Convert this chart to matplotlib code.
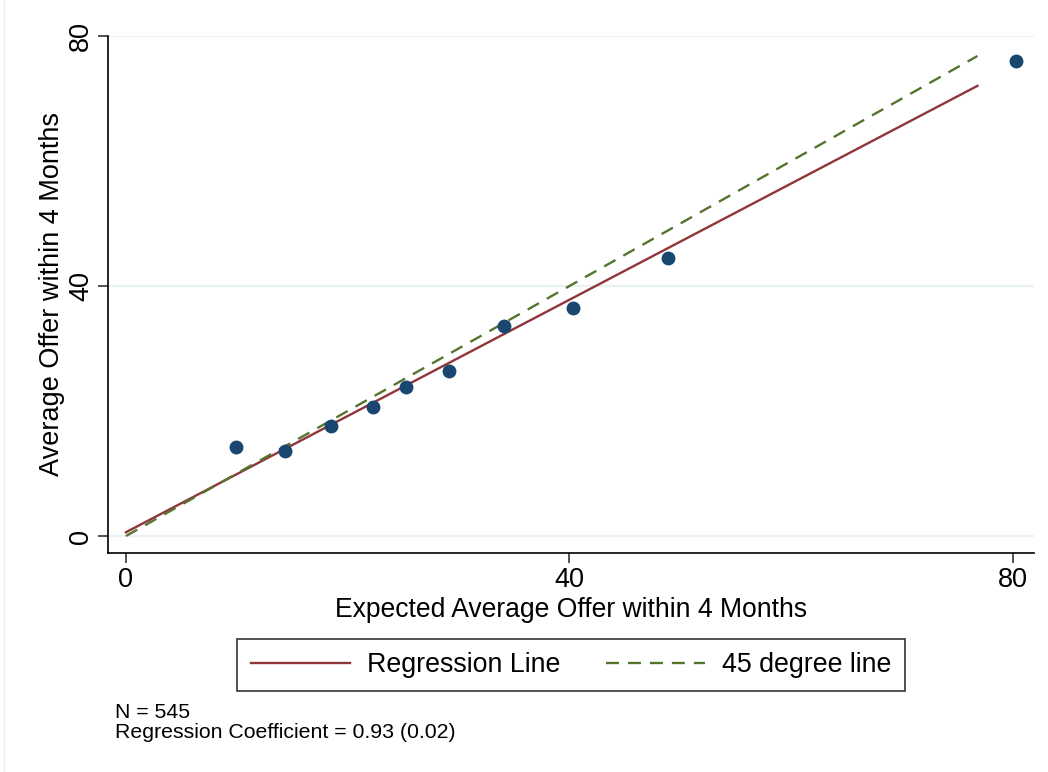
import matplotlib
matplotlib.use("Agg")
import matplotlib.pyplot as plt
from matplotlib.lines import Line2D
import numpy as np

plt.rcParams['font.family'] = ['Liberation Sans', 'DejaVu Sans']

# Binned means: expected vs. realised average offer
expected = [9.9, 14.3, 18.5, 22.3, 25.3, 29.1, 34.1, 40.3, 48.9, 80.3]
realised = [14.2, 13.6, 17.6, 20.6, 23.8, 26.4, 33.6, 36.5, 44.5, 76.0]

reg_intercept = 0.6
reg_slope = 0.93
line_end = 76.8

n_obs = 545
coef_se = 0.02

ticks = [0, 40, 80]

navy = '#1a476f'
maroon = '#90353b'
green = '#55752f'
grid_col = '#eaf2f3'
dash = (5.5, 3.8)

fig = plt.figure(figsize=(10.48, 7.72), dpi=100)
ax = fig.add_axes([108 / 1048, 1 - 553 / 772, 926 / 1048, 517 / 772])

xs = np.array([0, line_end])
ax.plot(xs, reg_intercept + reg_slope * xs, color=maroon, lw=1.7, zorder=3)
ax.plot(xs, xs, color=green, lw=1.7, dashes=dash, zorder=3)
ax.plot(expected, realised, 'o', color=navy, ms=10, mew=0, zorder=4)

ax.set_xlim(-1.62, 81.9)
ax.set_ylim(-2.72, 80)
ax.set_xticks(ticks)
ax.set_yticks(ticks)
ax.set_xticklabels([str(t) for t in ticks], fontsize=19.5)
ax.set_yticklabels([str(t) for t in ticks], fontsize=19.5, rotation=90, va='center')
ax.tick_params(axis='both', length=7, width=1.2, color='#333333', pad=3)
ax.grid(axis='y', color=grid_col, lw=1.6)
ax.set_axisbelow(True)
for s in ['top', 'right']:
    ax.spines[s].set_visible(False)
for s in ['left', 'bottom']:
    ax.spines[s].set_linewidth(1.2)

ax.set_xlabel('Expected Average Offer within 4 Months', fontsize=19.1, labelpad=3)
ax.set_ylabel('Average Offer within 4 Months', fontsize=19.5, labelpad=2)

handles = [Line2D([], [], color=maroon, lw=1.7),
           Line2D([], [], color=green, lw=1.7, dashes=dash)]
leg = fig.legend(handles, ['Regression Line', '45 degree line'], ncol=2,
                 loc='center', bbox_to_anchor=(571 / 1048, 1 - 665 / 772),
                 fontsize=19.3, frameon=True, fancybox=False, edgecolor='black',
                 handlelength=3.7, columnspacing=1.7, borderpad=0.5,
                 borderaxespad=0, handletextpad=0.63)
leg.get_frame().set_linewidth(1.2)

fig.text(115 / 1048, 1 - 712 / 772, f'N = {n_obs}', fontsize=15.3, va='center')
fig.text(115 / 1048, 1 - 733 / 772,
         f'Regression Coefficient = {reg_slope:.2f} ({coef_se:.2f})',
         fontsize=15.3, va='center')

fig.add_artist(Line2D([4 / 1048, 4 / 1048], [0, 1], color=grid_col, lw=1,
                      transform=fig.transFigure))

fig.savefig('out.png', dpi=100)
